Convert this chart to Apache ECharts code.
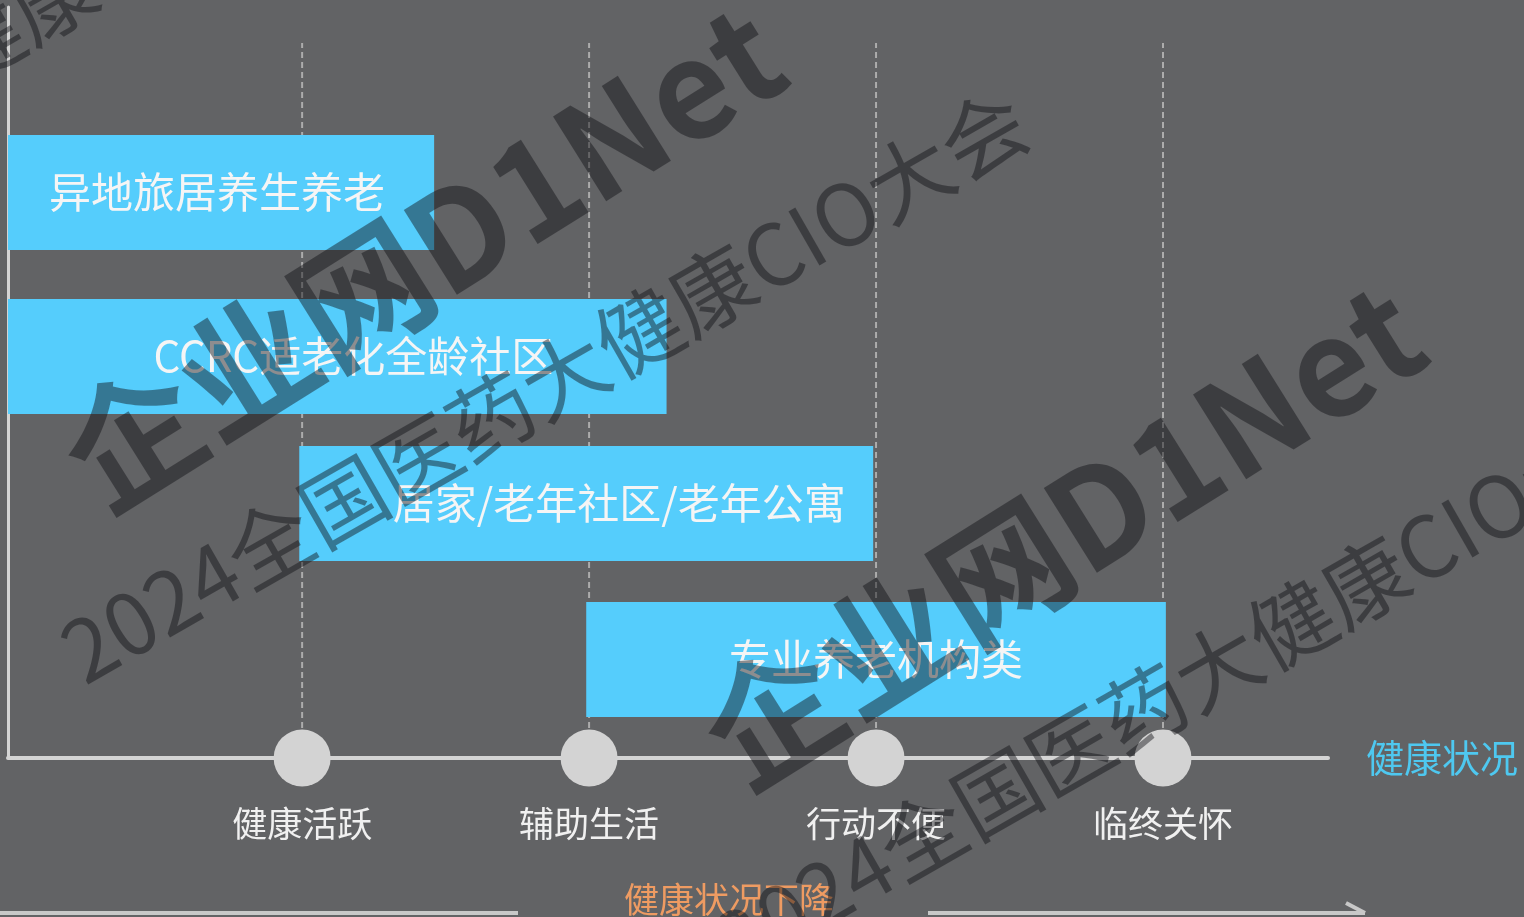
<!DOCTYPE html>
<html>
<head>
<meta charset="utf-8">
<title>养老模式与健康状况</title>
<script src="https://cdn.jsdelivr.net/npm/echarts@6/dist/echarts.min.js"></script>
<style>
  html, body { margin: 0; padding: 0; background: #626365; }
  #chart { width: 1524px; height: 917px; }
</style>
</head>
<body>
<div id="chart"></div>
<script>
// 健康阶段（横轴）
var stages = ['健康活跃', '辅助生活', '行动不便', '临终关怀']
var stageValues = [1, 2, 3, 4]
var guideTop = 7.15

// 养老模式（横向区间条）
var modes = ['异地旅居养生养老', 'CCRC适老化全龄社区', '居家/老年社区/老年公寓', '专业养老机构类']
var modeStart = [-0.025, -0.025, 0.99, 1.99]
var modeEnd = [1.46, 2.27, 2.99, 4.01]
var modeLow = [5.08, 3.44, 1.97, 0.41]
var modeHigh = [6.23, 4.59, 3.12, 1.56]

// 文字在条内的小偏移
var labelShift = [-4, 16, 33, 0]

var chart = echarts.init(document.getElementById('chart'))
var font = 'Noto Sans CJK SC'

var barData = modes.map(function (name, i) {
  return [modeStart[i], modeEnd[i], modeLow[i], modeHigh[i]]
})

var watermark = function (x, y, rot, text, size, weight) {
  return {
    type: 'text',
    x: x,
    y: y,
    rotation: rot,
    z: 100,
    silent: true,
    style: {
      text: text,
      fill: 'rgba(15,15,20,0.45)',
      fontSize: size,
      fontWeight: weight,
      fontFamily: font,
      textAlign: 'left',
      textVerticalAlign: 'bottom'
    }
  }
}

chart.setOption({
  backgroundColor: '#626365',
  animation: false,
  grid: { left: 8, right: 196, top: 7, bottom: 159 },
  xAxis: {
    type: 'value',
    min: -0.025,
    max: 4.575,
    axisLine: { show: true, lineStyle: { color: '#d4d4d4', width: 4 } },
    axisTick: { show: false },
    axisLabel: { show: false },
    splitLine: { show: false },
    name: '健康状况',
    nameLocation: 'end',
    nameGap: 38,
    nameTextStyle: { color: '#4ec8f0', fontSize: 38, fontFamily: font }
  },
  yAxis: {
    type: 'value',
    min: 0,
    max: 7.51,
    axisLine: { show: true, onZero: false, lineStyle: { color: '#d4d4d4', width: 3 } },
    axisTick: { show: false },
    axisLabel: { show: false },
    splitLine: { show: false }
  },
  series: [
    {
      // 虚线参考线
      type: 'custom',
      z: 1,
      silent: true,
      data: stageValues.map(function (v) { return [v, 0, guideTop] }),
      renderItem: function (params, api) {
        var a = api.coord([api.value(0), api.value(1)])
        var b = api.coord([api.value(0), api.value(2)])
        return {
          type: 'line',
          shape: { x1: a[0], y1: a[1], x2: b[0], y2: b[1] },
          style: { stroke: '#acacac', lineWidth: 2, lineDash: [6, 4] }
        }
      }
    },
    {
      type: 'custom',
      z: 2,
      data: barData,
      renderItem: function (params, api) {
        var p0 = api.coord([api.value(0), api.value(3)])
        var p1 = api.coord([api.value(1), api.value(2)])
        var i = params.dataIndex
        return {
          type: 'rect',
          shape: { x: p0[0], y: p0[1], width: p1[0] - p0[0], height: p1[1] - p0[1] },
          style: { fill: '#55cdfc' },
          textContent: {
            style: { text: modes[i], fill: '#f5f5f5', fontSize: 42, fontFamily: font }
          },
          textConfig: { position: 'inside', offset: [labelShift[i], 0] }
        }
      }
    },
    {
      type: 'scatter',
      z: 3,
      symbolSize: 57,
      itemStyle: { color: '#d3d3d3', opacity: 1 },
      data: stageValues.map(function (v) { return [v, 0] }),
      label: {
        show: true,
        position: 'bottom',
        distance: 20,
        color: '#f0f0f0',
        fontSize: 35,
        fontFamily: font,
        formatter: function (p) { return stages[p.dataIndex] }
      }
    }
  ],
  graphic: [
    {
      type: 'line',
      shape: { x1: 0, y1: 913, x2: 518, y2: 913 },
      style: { stroke: '#c8c8c8', lineWidth: 4 }
    },
    {
      type: 'line',
      shape: { x1: 928, y1: 913, x2: 1365, y2: 913 },
      style: { stroke: '#c8c8c8', lineWidth: 4 }
    },
    {
      type: 'polyline',
      shape: { points: [[1346, 903], [1365, 913]] },
      style: { stroke: '#c8c8c8', lineWidth: 4, fill: null }
    },
    {
      type: 'text',
      x: 729,
      y: 900,
      style: {
        text: '健康状况下降',
        fill: '#ee9b62',
        fontSize: 35,
        fontFamily: font,
        textAlign: 'center',
        textVerticalAlign: 'middle'
      }
    },
    // 水印
    watermark(112, 530, 0.56, '企业网D1Net', 135, 'bold'),
    watermark(752, 808, 0.56, '企业网D1Net', 135, 'bold'),
    watermark(90, 695, 0.52, '2024全国医药大健康CIO大会', 85, 'normal'),
    watermark(743, 987, 0.52, '2024全国医药大健康CIO大会', 85, 'normal'),
    watermark(-569, 403, 0.52, '2024全国医药大健康CIO大会', 85, 'normal')
  ]
})
</script>
</body>
</html>
